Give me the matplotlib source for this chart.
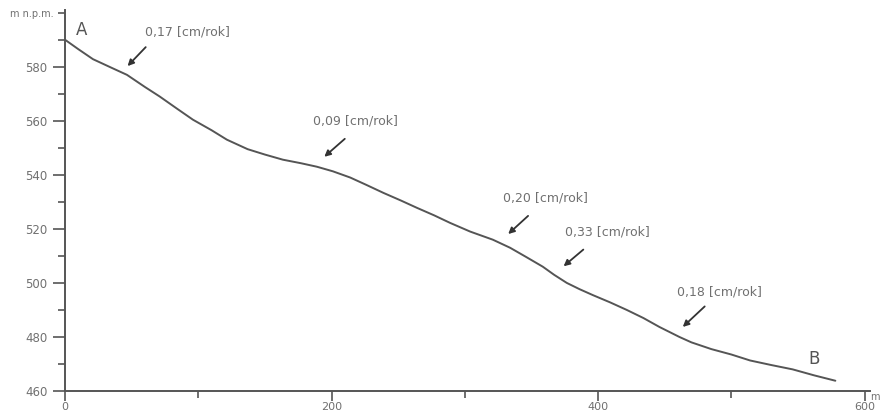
import matplotlib
matplotlib.use("Agg")
import matplotlib.pyplot as plt
from matplotlib.ticker import MultipleLocator

# Profile data (distance [m], elevation [m n.p.m.])
dist = [0, 10, 21, 35, 46.5, 60, 71, 84, 96, 110, 121.5, 137, 150, 163.5, 177, 189, 201, 214,
        226, 239, 252, 264, 277, 289, 304, 321, 334, 346, 358.5, 367, 376.5, 386, 396, 409,
        421.5, 434, 446, 461, 470, 485, 500, 514, 530, 546, 562, 578]
elev = [590, 586.5, 582.8, 579.6, 577, 572.5, 569, 564.5, 560.4, 556.5, 553, 549.5, 547.5, 545.6,
        544.3, 543, 541.3, 539, 536.3, 533.3, 530.5, 527.8, 525, 522.2, 519, 516, 513, 509.6,
        506, 503, 500, 497.7, 495.5, 492.8, 490, 487, 483.7, 480, 478, 475.5, 473.5, 471.3,
        469.6, 468, 465.8, 463.8]

# Annotations: (label, arrow head x, head y, tail x, tail y, text x, text y)
labels = ["0,17 [cm/rok]", "0,09 [cm/rok]", "0,20 [cm/rok]", "0,33 [cm/rok]", "0,18 [cm/rok]"]
head_x = [45.5, 193, 331, 372.5, 462]
head_y = [579.5, 546, 517.4, 505.5, 483]
tail_x = [62, 211.5, 349, 390.5, 481.5]
tail_y = [588, 554, 525.5, 513, 492]
text_x = [60, 186, 328.5, 375, 459]
text_y = [593, 560, 531.5, 519, 496.7]

xticks_major = [0, 200, 400, 600]
yticks_major = [460, 480, 500, 520, 540, 560, 580]

gray_line = "#555555"
gray_text = "#707070"

fig = plt.figure(figsize=(8.81, 4.19), dpi=100)
ax = fig.add_axes([65/881, 28/419, 805/881, 381/419])
ax.plot(dist, elev, color=gray_line, lw=1.4, solid_capstyle="round", solid_joinstyle="round")
ax.set_xlim(0, 604)
ax.set_ylim(460, 601)

for s in ["top", "right"]:
    ax.spines[s].set_visible(False)
for s in ["left", "bottom"]:
    ax.spines[s].set_color(gray_line)
    ax.spines[s].set_linewidth(1.4)

ax.set_xticks(xticks_major)
ax.set_yticks(yticks_major)
ax.xaxis.set_minor_locator(MultipleLocator(100))
ax.yaxis.set_minor_locator(MultipleLocator(10))
ax.tick_params(axis="y", which="major", length=9, width=1.2, color=gray_line, labelsize=8.5, labelcolor=gray_text)
ax.tick_params(axis="x", which="major", length=7, width=1.2, pad=1, color=gray_line, labelsize=8, labelcolor=gray_text)
ax.tick_params(which="minor", length=5, width=1.2, color=gray_line)

for lab, hx, hy, tx, ty, sx, sy in zip(labels, head_x, head_y, tail_x, tail_y, text_x, text_y):
    ax.annotate("", xy=(hx, hy), xytext=(tx, ty),
                arrowprops=dict(arrowstyle="-|>", color="#333333", lw=1.3, mutation_scale=9))
    ax.text(sx, sy, lab, fontsize=9, color=gray_text, va="center", ha="left")

ax.text(8, 593.5, "A", fontsize=12, color="#555555", va="center", ha="left")
ax.text(558, 472, "B", fontsize=12, color="#555555", va="center", ha="left")

fig.text(10/881, 1 - 14/419, "m n.p.m.", fontsize=7, color=gray_text, va="center", ha="left")
fig.text(870/881, 1 - 397/419, "m", fontsize=7, color=gray_text, va="center", ha="left")

fig.savefig("out.png", dpi=100)
